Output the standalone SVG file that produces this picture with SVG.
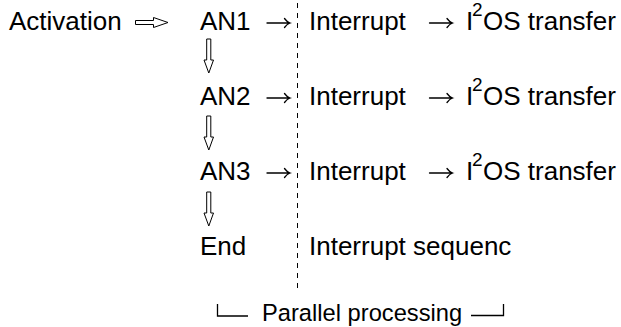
<svg xmlns="http://www.w3.org/2000/svg" width="621" height="327" viewBox="0 0 621 327">
<style>
.t{font-family:"Liberation Sans",Arial,sans-serif;font-size:26px;fill:#000}
.s{font-family:"Liberation Sans",Arial,sans-serif;font-size:19px;fill:#000}
.p{font-family:"Liberation Sans",Arial,sans-serif;font-size:23.7px;fill:#000}
.oa{fill:#fff;stroke:#000;stroke-width:1}
.ln{fill:none;stroke:#000;stroke-width:1.3}
.ra{fill:none;stroke:#000;stroke-width:1.3;stroke-linecap:round}
</style>
<defs>
<path id="ra" class="ra" d="M0 0H23M17.5 -4.5Q20 -1 23 0Q20 1 17.5 4.5"/>
</defs>
<rect width="621" height="327" fill="#fff"/>
<g id="activation"><text class="t" x="9" y="30">Activation</text></g>
<g id="an1"><text class="t" x="200" y="30">AN1</text></g>
<g id="an2"><text class="t" x="200" y="105">AN2</text></g>
<g id="an3"><text class="t" x="200" y="180">AN3</text></g>
<g id="end"><text class="t" x="200" y="255">End</text></g>
<g id="row1"><text class="t" x="309" y="30">Interrupt</text><text class="t" x="466" y="30">I</text><text class="s" x="472" y="16">2</text><text class="t" x="483" y="30">OS transfer</text></g>
<g id="row2"><text class="t" x="309" y="105">Interrupt</text><text class="t" x="466" y="105">I</text><text class="s" x="472" y="91">2</text><text class="t" x="483" y="105">OS transfer</text></g>
<g id="row3"><text class="t" x="309" y="180">Interrupt</text><text class="t" x="466" y="180">I</text><text class="s" x="472" y="166">2</text><text class="t" x="483" y="180">OS transfer</text></g>
<g id="row4"><text class="t" x="309" y="255">Interrupt sequenc</text></g>
<g id="parallel"><text class="p" x="262" y="321">Parallel processing</text>
<path class="ln" d="M217.5 304V316H248"/><path class="ln" d="M471 315.5H503.5V304"/></g>
<g id="connectors">
<path class="oa" d="M135.5 20.5H153.5V17.5L168 22.5L153.5 27.5V24.5H135.5Z"/>
<use href="#ra" x="267" y="23"/>
<use href="#ra" x="267" y="98"/>
<use href="#ra" x="267" y="173"/>
<use href="#ra" x="429.5" y="23"/>
<use href="#ra" x="429.5" y="98"/>
<use href="#ra" x="429.5" y="173"/>
<path class="oa" d="M206.7 39V60H204L208.8 73L213.5 60H210.8V39Z"/>
<path class="oa" d="M206.7 116V137H204L208.8 150L213.5 137H210.8V116Z"/>
<path class="oa" d="M206.7 192V213H204L208.8 226L213.5 213H210.8V192Z"/>
<line x1="297.5" y1="3" x2="297.5" y2="288" stroke="#000" stroke-width="1" stroke-dasharray="5 5"/>
</g>
</svg>
